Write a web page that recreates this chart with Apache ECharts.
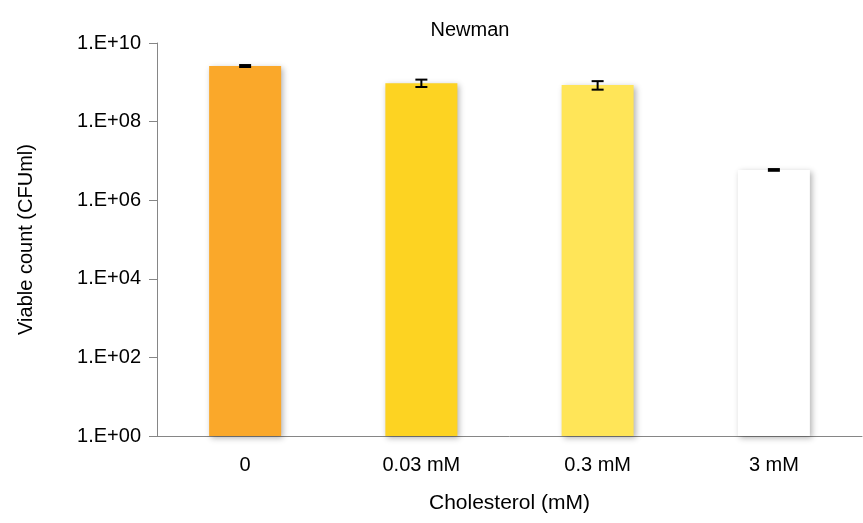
<!DOCTYPE html>
<html lang="en">
<head>
    <meta charset="UTF-8">
    <title>Newman</title>
</head>
<body style="margin:0">
    <div id="chart" style="width: 863px;height:523px;"></div>
</body>
<script type="text/javascript" src="https://cdn.jsdelivr.net/npm/echarts@6/dist/echarts.min.js"></script>
<script type="text/javascript">
    // data
    var categories = ['0', '0.03 mM', '0.3 mM', '3 mM'];
    var viableCount = [2.6e9, 9.5e8, 8.5e8, 5.9e6];
    var errorLow = [2.45e9, 7.6e8, 6.5e8, 5.6e6];
    var errorHigh = [2.75e9, 1.17e9, 1.07e9, 6.2e6];
    var barColors = ['#FAA82A', '#FDD322', '#FFE558', '#FFFFFF'];

    var myChart = echarts.init(document.getElementById('chart'));

    var barData = viableCount.map(function (v, i) {
        return { value: v, itemStyle: { color: barColors[i] } };
    });
    var errData = errorLow.map(function (lo, i) {
        return [i, lo, errorHigh[i]];
    });

    var font = 'Arial, "Liberation Sans", sans-serif';

    var option = {
        backgroundColor: '#fff',
        animation: false,
        title: {
            text: 'Newman',
            left: 465,
            textAlign: 'center',
            top: 15,
            textStyle: { fontFamily: font, fontSize: 20, fontWeight: 'normal', color: '#000' }
        },
        grid: { left: 157, right: 1, top: 43, bottom: 87 },
        xAxis: {
            type: 'category',
            data: categories,
            name: 'Cholesterol (mM)',
            nameLocation: 'middle',
            nameGap: 57,
            nameTextStyle: { fontFamily: font, fontSize: 21, color: '#000' },
            axisLine: { lineStyle: { color: '#868686', width: 1 } },
            axisTick: { length: 8, lineStyle: { color: '#868686' } },
            axisLabel: { margin: 19, fontFamily: font, fontSize: 20, color: '#000' }
        },
        yAxis: {
            type: 'log',
            logBase: 10,
            min: 1,
            max: 1e10,
            interval: 2,
            name: 'Viable count (CFUml)',
            nameLocation: 'middle',
            nameGap: 121,
            nameTextStyle: { fontFamily: font, fontSize: 20, color: '#000' },
            axisLine: { show: true, lineStyle: { color: '#868686', width: 1 } },
            axisTick: { show: true, length: 8, lineStyle: { color: '#868686' } },
            minorTick: { show: false },
            splitLine: { show: false },
            axisLabel: {
                margin: 16,
                fontFamily: font,
                fontSize: 20,
                color: '#000',
                formatter: function (v) {
                    var e = Math.round(Math.log10(v));
                    return '1.E+' + (e < 10 ? '0' + e : e);
                }
            }
        },
        series: [
            {
                type: 'bar',
                data: barData,
                barWidth: 72,
                itemStyle: {
                    shadowBlur: 6,
                    shadowColor: 'rgba(0,0,0,0.3)',
                    shadowOffsetX: 2,
                    shadowOffsetY: 2
                }
            },
            {
                type: 'custom',
                data: errData,
                z: 10,
                renderItem: function (params, api) {
                    var lo = api.coord([api.value(0), api.value(1)]);
                    var hi = api.coord([api.value(0), api.value(2)]);
                    var half = 6;
                    var style = { stroke: '#000', lineWidth: 2 };
                    return {
                        type: 'group',
                        children: [
                            { type: 'line', shape: { x1: lo[0], y1: lo[1], x2: hi[0], y2: hi[1] }, style: style },
                            { type: 'line', shape: { x1: lo[0] - half, y1: lo[1], x2: lo[0] + half, y2: lo[1] }, style: style },
                            { type: 'line', shape: { x1: hi[0] - half, y1: hi[1], x2: hi[0] + half, y2: hi[1] }, style: style }
                        ]
                    };
                }
            }
        ]
    };

    myChart.setOption(option);
</script>
</html>
